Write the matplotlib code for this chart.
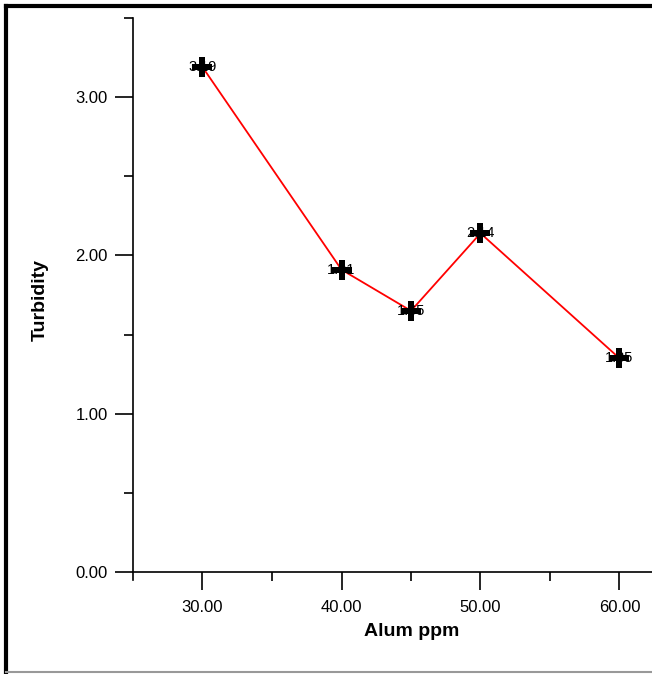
import matplotlib.pyplot as plt
from matplotlib.lines import Line2D
from matplotlib.ticker import FixedLocator

plt.rcParams['font.family'] = ['Liberation Sans', 'DejaVu Sans']

# dados
alum_ppm = [30, 40, 45, 50, 60]
turbidez = [3.19, 1.91, 1.65, 2.14, 1.35]
rotulos = ['3.19', '1.91', '1.65', '2.14', '1.35']

W, H = 652, 674
fig = plt.figure(figsize=(W / 100, H / 100), dpi=100)

# eixos posicionados em pixels
x0, x1 = 133, 652
y_top, y_bot = 18, 580
ax = fig.add_axes([x0 / W, (H - y_bot) / H, (x1 - x0) / W, (y_bot - y_top) / H])

ax.set_xlim(25, 25 + (x1 - x0) / 13.9)
ax.set_ylim(-8 / 158.33, 3.5)

ax.plot(alum_ppm, turbidez, color='#ff0000', linewidth=1.3, zorder=2)
for x, y, r in zip(alum_ppm, turbidez, rotulos):
    ax.text(x, y, r, ha='center', va='center', fontsize=10.5, color='black', zorder=3)
ax.plot(alum_ppm, turbidez, linestyle='none', marker='P', markersize=15,
        color='black', markeredgewidth=0, zorder=4)

# eixos estilo "cruz"
for s in ['top', 'right']:
    ax.spines[s].set_visible(False)
ax.spines['bottom'].set_position(('data', 0))
ax.spines['left'].set_linewidth(1.2)
ax.spines['bottom'].set_linewidth(1.2)
ax.patch.set_alpha(0)

ax.xaxis.set_major_locator(FixedLocator([30, 40, 50, 60]))
ax.xaxis.set_minor_locator(FixedLocator([35, 45, 55]))
ax.yaxis.set_major_locator(FixedLocator([0, 1, 2, 3]))
ax.yaxis.set_minor_locator(FixedLocator([0.5, 1.5, 2.5, 3.5]))
ax.xaxis.set_major_formatter(plt.FuncFormatter(lambda v, p: f'{v:.2f}'))
ax.yaxis.set_major_formatter(plt.FuncFormatter(lambda v, p: f'{v:.2f}'))

ax.tick_params(axis='both', which='major', length=13, width=1.2, labelsize=12, direction='out')
ax.tick_params(axis='both', which='minor', length=6.5, width=1.2, direction='out')
ax.tick_params(axis='x', which='major', pad=7)
ax.tick_params(axis='y', which='major', pad=5)

fig.text(412 / W, 1 - 632 / H, 'Alum ppm', ha='center', va='center',
         fontsize=14, fontweight='bold')
fig.text(40 / W, 1 - 300 / H, 'Turbidity', ha='center', va='center',
         fontsize=14, fontweight='bold', rotation=90)

# moldura
fig.add_artist(Line2D([6 / W, 6 / W], [0, 1 - 6 / H], color='black', linewidth=3, transform=fig.transFigure))
fig.add_artist(Line2D([6 / W, 1], [1 - 6 / H, 1 - 6 / H], color='black', linewidth=3, transform=fig.transFigure))
fig.add_artist(Line2D([6 / W, 1], [2 / H, 2 / H], color='#999999', linewidth=1.5, transform=fig.transFigure))

fig.savefig('out.png', dpi=100)
